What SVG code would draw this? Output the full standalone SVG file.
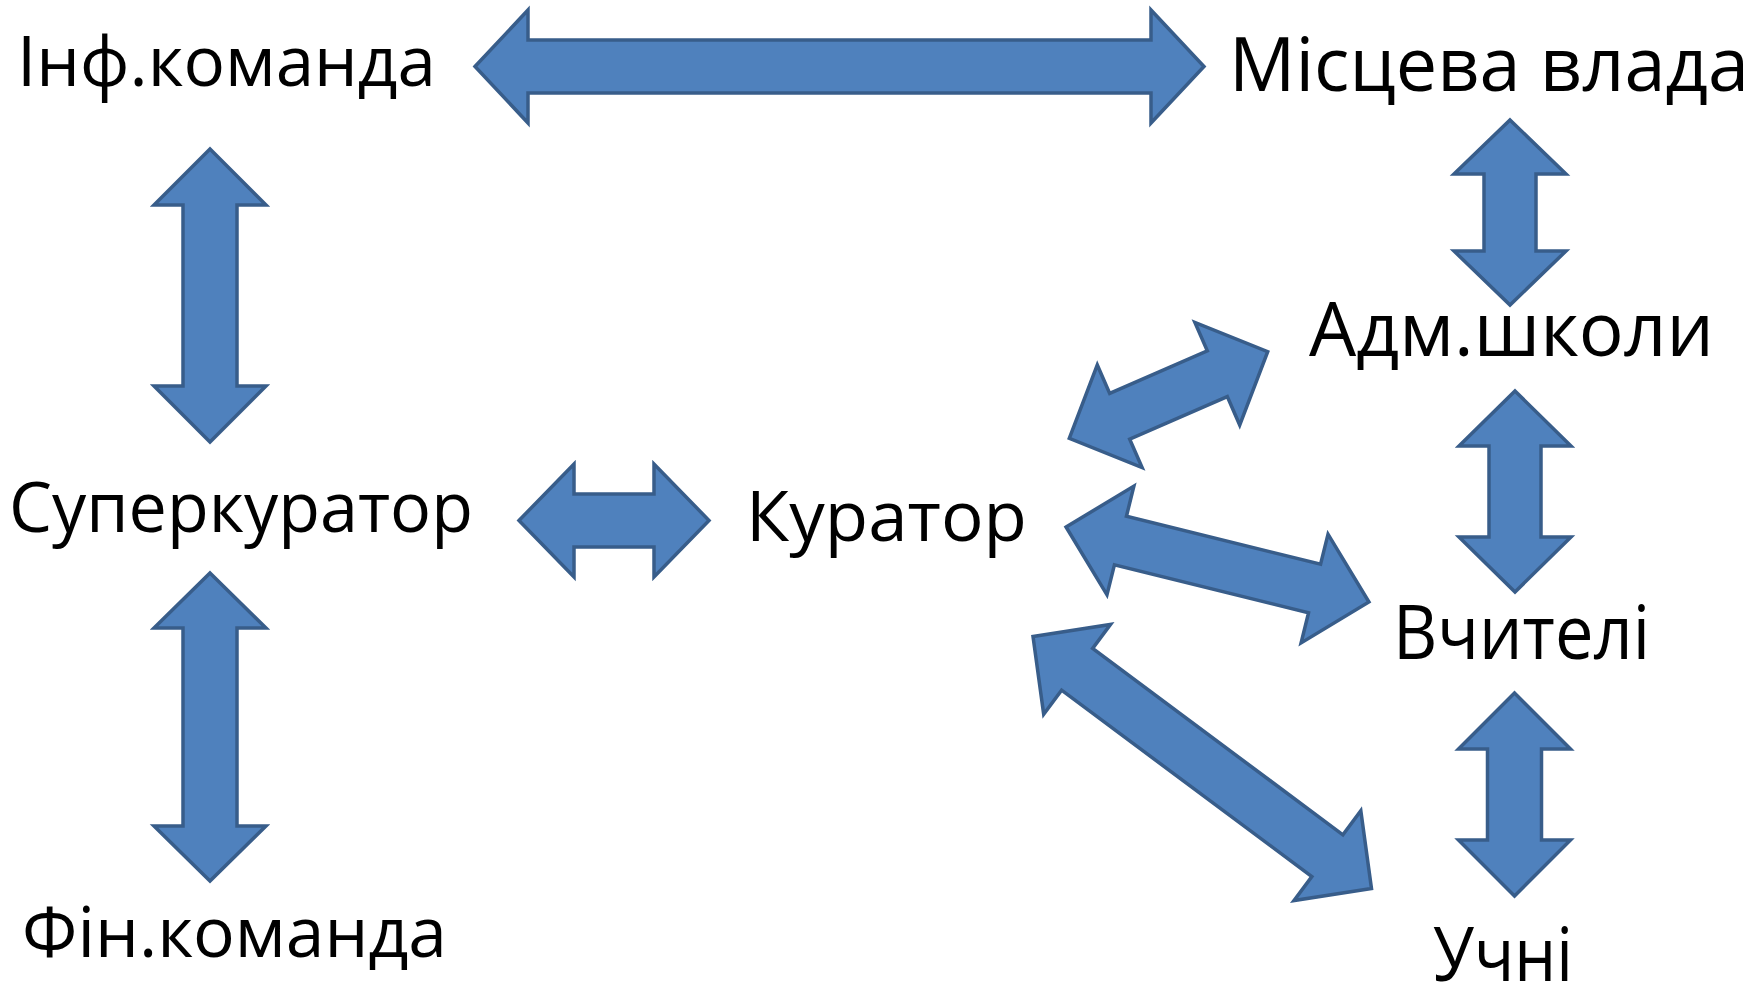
<svg xmlns="http://www.w3.org/2000/svg" width="1754" height="986" viewBox="0 0 1754 986">
<style>
.arr{fill:#4F81BD;stroke:#385D8A;stroke-width:3.5;stroke-linejoin:miter}
.lbl{font-family:"Open Sans","Noto Sans","Liberation Sans",sans-serif;font-size:70px;fill:#000}
.big{font-size:75px}
</style>
<rect width="1754" height="986" fill="#fff"/>
<g id="connectors">
<polygon class="arr" transform="translate(839.5,66.5)" points="-364.5,0 -311.5,-56.5 -311.5,-26.5 311.5,-26.5 311.5,-56.5 364.5,0 311.5,56.5 311.5,26.5 -311.5,26.5 -311.5,56.5"/>
<polygon class="arr" transform="translate(614,520.5)" points="-95,0 -40,-56.5 -40,-26.5 40,-26.5 40,-56.5 95,0 40,56.5 40,26.5 -40,26.5 -40,56.5"/>
<polygon class="arr" transform="translate(210,295.5) rotate(90)" points="-146.5,0 -90.5,-56 -90.5,-27 90.5,-27 90.5,-56 146.5,0 90.5,56 90.5,27 -90.5,27 -90.5,56"/>
<polygon class="arr" transform="translate(210,727) rotate(90)" points="-154,0 -99,-56 -99,-27 99,-27 99,-56 154,0 99,56 99,27 -99,27 -99,56"/>
<polygon class="arr" transform="translate(1510,212.5) rotate(90)" points="-92.5,0 -38.5,-56 -38.5,-26 38.5,-26 38.5,-56 92.5,0 38.5,56 38.5,26 -38.5,26 -38.5,56"/>
<polygon class="arr" transform="translate(1515,491.5) rotate(90)" points="-100.5,0 -45.5,-56 -45.5,-26 45.5,-26 45.5,-56 100.5,0 45.5,56 45.5,26 -45.5,26 -45.5,56"/>
<polygon class="arr" transform="translate(1514.5,794.5) rotate(90)" points="-101.5,0 -45.5,-56 -45.5,-27 45.5,-27 45.5,-56 101.5,0 45.5,56 45.5,27 -45.5,27 -45.5,56"/>
<polygon class="arr" transform="translate(1168.5,395) rotate(-23.58)" points="-108.25,0 -53.25,-56 -53.25,-25 53.25,-25 53.25,-56 108.25,0 53.25,56 53.25,25 -53.25,25 -53.25,56"/>
<polygon class="arr" transform="translate(1217.5,564.5) rotate(13.9)" points="-156,0 -100,-56 -100,-25 100,-25 100,-56 156,0 100,56 100,25 -100,25 -100,56"/>
<polygon class="arr" transform="translate(1202.25,762.5) rotate(36.67)" points="-211,0 -156,-56 -156,-26 156,-26 156,-56 211,0 156,56 156,26 -156,26 -156,56"/>
</g>
<g id="inf"><text class="lbl" x="17" y="86" textLength="419" lengthAdjust="spacingAndGlyphs">Інф.команда</text></g>
<g id="misceva"><text class="lbl big" x="1229" y="91" textLength="520" lengthAdjust="spacingAndGlyphs">Місцева влада</text></g>
<g id="adm"><text class="lbl big" x="1309" y="356" textLength="405" lengthAdjust="spacingAndGlyphs">Адм.школи</text></g>
<g id="super"><text class="lbl" x="9" y="532" textLength="464" lengthAdjust="spacingAndGlyphs">Суперкуратор</text></g>
<g id="kurator"><text class="lbl" x="746" y="541" textLength="281" lengthAdjust="spacingAndGlyphs">Куратор</text></g>
<g id="vchyteli"><text class="lbl big" x="1393" y="659" textLength="257" lengthAdjust="spacingAndGlyphs">Вчителі</text></g>
<g id="fin"><text class="lbl" x="22" y="957" textLength="425" lengthAdjust="spacingAndGlyphs">Фін.команда</text></g>
<g id="uchni"><text class="lbl big" x="1433" y="981" textLength="140" lengthAdjust="spacingAndGlyphs">Учні</text></g>
</svg>
